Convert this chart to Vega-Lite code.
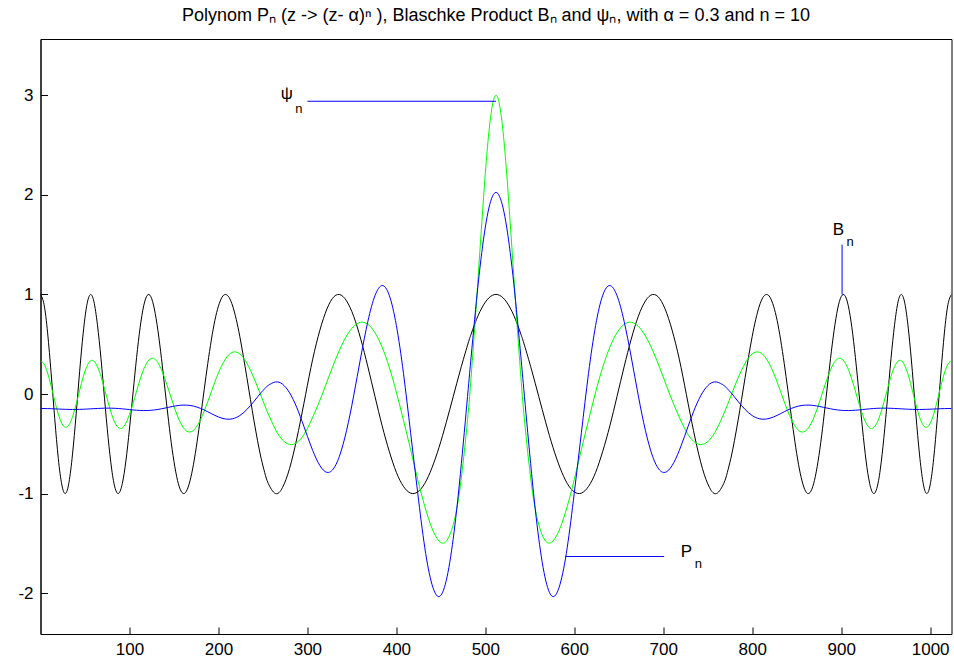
{
"$schema": "https://vega.github.io/schema/vega-lite/v6.json",
"width": 911, "height": 595,
"autosize": {"type": "none"},
"padding": {"left": 40.5, "top": 39, "right": 2.5, "bottom": 31},
"background": "white",
"config": {"view": {"stroke": "black", "strokeWidth": 1}, "font": "Liberation Sans"},
"title": {"text": "Polynom Pₙ  (z -> (z-  α)ⁿ  ), Blaschke Product Bₙ  and ψₙ, with α = 0.3 and n = 10", "fontSize": 18, "fontWeight": "normal", "font": "Liberation Sans", "color": "black", "offset": 14, "anchor": "middle"},
"datasets": {
"curves": [
{"x":0,"B":1.0000,"psi":0.3333,"P":-0.1455},{"x":4,"B":0.8979,"psi":0.3009,"P":-0.1458},{"x":8,"B":0.6133,"psi":0.2100,"P":-0.1466},{"x":12,"B":0.2034,"psi":0.0785,"P":-0.1477},{"x":16,"B":-0.2464,"psi":-0.0680,"P":-0.1492},{"x":20,"B":-0.6460,"psi":-0.2013,"P":-0.1508},{"x":24,"B":-0.9127,"psi":-0.2958,"P":-0.1524},{"x":28,"B":-0.9996,"psi":-0.3342,"P":-0.1537},{"x":32,"B":-0.8879,"psi":-0.3099,"P":-0.1547},{"x":36,"B":-0.6034,"psi":-0.2285,"P":-0.1552},{"x":40,"B":-0.2094,"psi":-0.1055,"P":-0.1550},{"x":44,"B":0.2279,"psi":0.0367,"P":-0.1543},{"x":48,"B":0.6125,"psi":0.1715,"P":-0.1530},{"x":52,"B":0.8890,"psi":0.2756,"P":-0.1513},{"x":56,"B":0.9989,"psi":0.3315,"P":-0.1492},{"x":60,"B":0.9289,"psi":0.3311,"P":-0.1471},{"x":64,"B":0.6949,"psi":0.2749,"P":-0.1451},{"x":68,"B":0.3567,"psi":0.1776,"P":-0.1434},{"x":72,"B":-0.0488,"psi":0.0501,"P":-0.1423},{"x":76,"B":-0.4378,"psi":-0.0837,"P":-0.1419},{"x":80,"B":-0.7546,"psi":-0.2043,"P":-0.1424},{"x":84,"B":-0.9499,"psi":-0.2939,"P":-0.1438},{"x":88,"B":-0.9975,"psi":-0.3408,"P":-0.1461},{"x":92,"B":-0.8977,"psi":-0.3396,"P":-0.1490},{"x":96,"B":-0.6720,"psi":-0.2921,"P":-0.1524},{"x":100,"B":-0.3518,"psi":-0.2052,"P":-0.1562},{"x":104,"B":0.0104,"psi":-0.0945,"P":-0.1598},{"x":108,"B":0.3654,"psi":0.0288,"P":-0.1628},{"x":112,"B":0.6688,"psi":0.1477,"P":-0.1651},{"x":116,"B":0.8857,"psi":0.2482,"P":-0.1661},{"x":120,"B":0.9911,"psi":0.3200,"P":-0.1657},{"x":124,"B":0.9781,"psi":0.3558,"P":-0.1637},{"x":128,"B":0.8538,"psi":0.3532,"P":-0.1601},{"x":132,"B":0.6367,"psi":0.3138,"P":-0.1550},{"x":136,"B":0.3553,"psi":0.2430,"P":-0.1485},{"x":140,"B":0.0399,"psi":0.1486,"P":-0.1411},{"x":144,"B":-0.2739,"psi":0.0411,"P":-0.1333},{"x":148,"B":-0.5560,"psi":-0.0699,"P":-0.1257},{"x":152,"B":-0.7805,"psi":-0.1742,"P":-0.1192},{"x":156,"B":-0.9322,"psi":-0.2631,"P":-0.1141},{"x":160,"B":-0.9973,"psi":-0.3302,"P":-0.1114},{"x":164,"B":-0.9763,"psi":-0.3704,"P":-0.1114},{"x":168,"B":-0.8733,"psi":-0.3818,"P":-0.1147},{"x":172,"B":-0.7046,"psi":-0.3646,"P":-0.1214},{"x":176,"B":-0.4804,"psi":-0.3206,"P":-0.1316},{"x":180,"B":-0.2263,"psi":-0.2551,"P":-0.1448},{"x":184,"B":0.0433,"psi":-0.1716,"P":-0.1607},{"x":188,"B":0.3057,"psi":-0.0775,"P":-0.1783},{"x":192,"B":0.5412,"psi":0.0224,"P":-0.1966},{"x":196,"B":0.7393,"psi":0.1209,"P":-0.2144},{"x":200,"B":0.8825,"psi":0.2116,"P":-0.2304},{"x":204,"B":0.9716,"psi":0.2903,"P":-0.2431},{"x":208,"B":1.0000,"psi":0.3528,"P":-0.2511},{"x":212,"B":0.9692,"psi":0.3965,"P":-0.2532},{"x":216,"B":0.8837,"psi":0.4196,"P":-0.2484},{"x":220,"B":0.7506,"psi":0.4214,"P":-0.2365},{"x":224,"B":0.5791,"psi":0.4024,"P":-0.2166},{"x":228,"B":0.3803,"psi":0.3641,"P":-0.1894},{"x":232,"B":0.1646,"psi":0.3087,"P":-0.1553},{"x":236,"B":-0.0560,"psi":0.2392,"P":-0.1161},{"x":240,"B":-0.2707,"psi":0.1588,"P":-0.0732},{"x":244,"B":-0.4696,"psi":0.0705,"P":-0.0288},{"x":248,"B":-0.6460,"psi":-0.0210,"P":0.0145},{"x":252,"B":-0.7888,"psi":-0.1125,"P":0.0538},{"x":256,"B":-0.8983,"psi":-0.2005,"P":0.0865},{"x":264,"B":-0.9989,"psi":-0.3539,"P":0.1205},{"x":272,"B":-0.9397,"psi":-0.4609,"P":0.0994},{"x":280,"B":-0.7466,"psi":-0.5061,"P":0.0121},{"x":288,"B":-0.4519,"psi":-0.4887,"P":-0.1342},{"x":296,"B":-0.0983,"psi":-0.4085,"P":-0.3239},{"x":304,"B":0.2669,"psi":-0.2723,"P":-0.5212},{"x":312,"B":0.5742,"psi":-0.1073,"P":-0.6866},{"x":320,"B":0.8090,"psi":0.0742,"P":-0.7792},{"x":328,"B":0.9582,"psi":0.2647,"P":-0.7649},{"x":336,"B":0.9993,"psi":0.4393,"P":-0.6251},{"x":344,"B":0.9352,"psi":0.5824,"P":-0.3678},{"x":352,"B":0.7810,"psi":0.6789,"P":-0.0188},{"x":360,"B":0.5512,"psi":0.7203,"P":0.3711},{"x":368,"B":0.2730,"psi":0.6997,"P":0.7304},{"x":376,"B":-0.0258,"psi":0.6154,"P":0.9888},{"x":384,"B":-0.3190,"psi":0.4710,"P":1.0892},{"x":392,"B":-0.5746,"psi":0.2692,"P":0.9923},{"x":400,"B":-0.7864,"psi":0.0193,"P":0.6893},{"x":408,"B":-0.9280,"psi":-0.2649,"P":0.2078},{"x":416,"B":-0.9953,"psi":-0.5572,"P":-0.3881},{"x":424,"B":-0.9832,"psi":-0.8593,"P":-0.9924},{"x":432,"B":-0.8973,"psi":-1.1300,"P":-1.5451},{"x":440,"B":-0.7415,"psi":-1.3471,"P":-1.9104},{"x":448,"B":-0.5346,"psi":-1.4765,"P":-2.0343},{"x":456,"B":-0.2884,"psi":-1.4796,"P":-1.8760},{"x":464,"B":-0.0233,"psi":-1.3088,"P":-1.4473},{"x":472,"B":0.2420,"psi":-0.9165,"P":-0.7981},{"x":480,"B":0.4900,"psi":-0.2615,"P":-0.0258},{"x":484,"B":0.6006,"psi":0.1680,"P":0.3707},{"x":488,"B":0.7010,"psi":0.6549,"P":0.7515},{"x":492,"B":0.7892,"psi":1.1820,"P":1.1094},{"x":496,"B":0.8634,"psi":1.7153,"P":1.4197},{"x":500,"B":0.9224,"psi":2.2160,"P":1.6760},{"x":504,"B":0.9653,"psi":2.6292,"P":1.8670},{"x":508,"B":0.9913,"psi":2.9036,"P":1.9847},{"x":512,"B":1.0000,"psi":3.0000,"P":2.0245},
{"x":516,"B":0.9913,"psi":2.9036,"P":1.9847},{"x":520,"B":0.9653,"psi":2.6292,"P":1.8670},{"x":524,"B":0.9224,"psi":2.2160,"P":1.6760},{"x":528,"B":0.8634,"psi":1.7153,"P":1.4197},{"x":532,"B":0.7892,"psi":1.1820,"P":1.1094},{"x":536,"B":0.7010,"psi":0.6549,"P":0.7515},{"x":540,"B":0.6006,"psi":0.1680,"P":0.3707},{"x":544,"B":0.4900,"psi":-0.2615,"P":-0.0258},{"x":552,"B":0.2420,"psi":-0.9165,"P":-0.7981},{"x":560,"B":-0.0233,"psi":-1.3088,"P":-1.4473},{"x":568,"B":-0.2884,"psi":-1.4796,"P":-1.8760},{"x":576,"B":-0.5346,"psi":-1.4765,"P":-2.0343},{"x":584,"B":-0.7415,"psi":-1.3471,"P":-1.9104},{"x":592,"B":-0.8973,"psi":-1.1300,"P":-1.5451},{"x":600,"B":-0.9832,"psi":-0.8593,"P":-0.9924},{"x":608,"B":-0.9953,"psi":-0.5572,"P":-0.3881},{"x":616,"B":-0.9280,"psi":-0.2649,"P":0.2078},{"x":624,"B":-0.7864,"psi":0.0193,"P":0.6893},{"x":632,"B":-0.5746,"psi":0.2692,"P":0.9923},{"x":640,"B":-0.3190,"psi":0.4710,"P":1.0892},{"x":648,"B":-0.0258,"psi":0.6154,"P":0.9888},{"x":656,"B":0.2730,"psi":0.6997,"P":0.7304},{"x":664,"B":0.5512,"psi":0.7203,"P":0.3711},{"x":672,"B":0.7810,"psi":0.6789,"P":-0.0188},{"x":680,"B":0.9352,"psi":0.5824,"P":-0.3678},{"x":688,"B":0.9993,"psi":0.4393,"P":-0.6251},{"x":696,"B":0.9582,"psi":0.2647,"P":-0.7649},{"x":704,"B":0.8090,"psi":0.0742,"P":-0.7792},{"x":712,"B":0.5742,"psi":-0.1073,"P":-0.6866},{"x":720,"B":0.2669,"psi":-0.2723,"P":-0.5212},{"x":728,"B":-0.0983,"psi":-0.4085,"P":-0.3239},{"x":736,"B":-0.4519,"psi":-0.4887,"P":-0.1342},{"x":744,"B":-0.7466,"psi":-0.5061,"P":0.0121},{"x":752,"B":-0.9397,"psi":-0.4609,"P":0.0994},{"x":760,"B":-0.9989,"psi":-0.3539,"P":0.1205},{"x":768,"B":-0.8983,"psi":-0.2005,"P":0.0865},{"x":772,"B":-0.7888,"psi":-0.1125,"P":0.0538},{"x":776,"B":-0.6460,"psi":-0.0210,"P":0.0145},{"x":780,"B":-0.4696,"psi":0.0705,"P":-0.0288},{"x":784,"B":-0.2707,"psi":0.1588,"P":-0.0732},{"x":788,"B":-0.0560,"psi":0.2392,"P":-0.1161},{"x":792,"B":0.1646,"psi":0.3087,"P":-0.1553},{"x":796,"B":0.3803,"psi":0.3641,"P":-0.1894},{"x":800,"B":0.5791,"psi":0.4024,"P":-0.2166},{"x":804,"B":0.7506,"psi":0.4214,"P":-0.2365},{"x":808,"B":0.8837,"psi":0.4196,"P":-0.2484},{"x":812,"B":0.9692,"psi":0.3965,"P":-0.2532},{"x":816,"B":1.0000,"psi":0.3528,"P":-0.2511},{"x":820,"B":0.9716,"psi":0.2903,"P":-0.2431},{"x":824,"B":0.8825,"psi":0.2116,"P":-0.2304},{"x":828,"B":0.7393,"psi":0.1209,"P":-0.2144},{"x":832,"B":0.5412,"psi":0.0224,"P":-0.1966},{"x":836,"B":0.3057,"psi":-0.0775,"P":-0.1783},{"x":840,"B":0.0433,"psi":-0.1716,"P":-0.1607},{"x":844,"B":-0.2263,"psi":-0.2551,"P":-0.1448},{"x":848,"B":-0.4804,"psi":-0.3206,"P":-0.1316},{"x":852,"B":-0.7046,"psi":-0.3646,"P":-0.1214},{"x":856,"B":-0.8733,"psi":-0.3818,"P":-0.1147},{"x":860,"B":-0.9763,"psi":-0.3704,"P":-0.1114},{"x":864,"B":-0.9973,"psi":-0.3302,"P":-0.1114},{"x":868,"B":-0.9322,"psi":-0.2631,"P":-0.1141},{"x":872,"B":-0.7805,"psi":-0.1742,"P":-0.1192},{"x":876,"B":-0.5560,"psi":-0.0699,"P":-0.1257},{"x":880,"B":-0.2739,"psi":0.0411,"P":-0.1333},{"x":884,"B":0.0399,"psi":0.1486,"P":-0.1411},{"x":888,"B":0.3553,"psi":0.2430,"P":-0.1485},{"x":892,"B":0.6367,"psi":0.3138,"P":-0.1550},{"x":896,"B":0.8538,"psi":0.3532,"P":-0.1601},{"x":900,"B":0.9781,"psi":0.3558,"P":-0.1637},{"x":904,"B":0.9911,"psi":0.3200,"P":-0.1657},{"x":908,"B":0.8857,"psi":0.2482,"P":-0.1661},{"x":912,"B":0.6688,"psi":0.1477,"P":-0.1651},{"x":916,"B":0.3654,"psi":0.0288,"P":-0.1628},{"x":920,"B":0.0104,"psi":-0.0945,"P":-0.1598},{"x":924,"B":-0.3518,"psi":-0.2052,"P":-0.1562},{"x":928,"B":-0.6720,"psi":-0.2921,"P":-0.1524},{"x":932,"B":-0.8977,"psi":-0.3396,"P":-0.1490},{"x":936,"B":-0.9975,"psi":-0.3408,"P":-0.1461},{"x":940,"B":-0.9499,"psi":-0.2939,"P":-0.1438},{"x":944,"B":-0.7546,"psi":-0.2043,"P":-0.1424},{"x":948,"B":-0.4378,"psi":-0.0837,"P":-0.1419},{"x":952,"B":-0.0488,"psi":0.0501,"P":-0.1423},{"x":956,"B":0.3567,"psi":0.1776,"P":-0.1434},{"x":960,"B":0.6949,"psi":0.2749,"P":-0.1451},{"x":964,"B":0.9289,"psi":0.3311,"P":-0.1471},{"x":968,"B":0.9989,"psi":0.3315,"P":-0.1492},{"x":972,"B":0.8890,"psi":0.2756,"P":-0.1513},{"x":976,"B":0.6125,"psi":0.1715,"P":-0.1530},{"x":980,"B":0.2279,"psi":0.0367,"P":-0.1543},{"x":984,"B":-0.2094,"psi":-0.1055,"P":-0.1550},{"x":988,"B":-0.6034,"psi":-0.2285,"P":-0.1552},{"x":992,"B":-0.8879,"psi":-0.3099,"P":-0.1547},{"x":996,"B":-0.9996,"psi":-0.3342,"P":-0.1537},{"x":1000,"B":-0.9127,"psi":-0.2958,"P":-0.1524},{"x":1004,"B":-0.6460,"psi":-0.2013,"P":-0.1508},{"x":1008,"B":-0.2464,"psi":-0.0680,"P":-0.1492},{"x":1012,"B":0.2034,"psi":0.0785,"P":-0.1477},{"x":1016,"B":0.6133,"psi":0.2100,"P":-0.1466},{"x":1020,"B":0.8979,"psi":0.3009,"P":-0.1458},{"x":1024,"B":1.0000,"psi":0.3333,"P":-0.1455}
],
"rules": [
{"x":300,"x2":512,"y":2.94,"y2":2.94},
{"x":901,"x2":901,"y":1.0,"y2":1.5},
{"x":590,"x2":701,"y":-1.632,"y2":-1.632}
],
"labels": [
{"x":277,"y":3.01,"t":"ψ"},
{"x":897,"y":1.645,"t":"B"},
{"x":726,"y":-1.59,"t":"P"}
],
"subs": [
{"x":290.5,"y":2.86,"t":"n"},
{"x":910,"y":1.53,"t":"n"},
{"x":739.6,"y":-1.71,"t":"n"}
]
},
"layer": [
{
"data": {"name": "curves"},
"mark": {"type": "line", "color": "black", "strokeWidth": 1, "interpolate": "natural", "clip": true},
"encoding": {
"x": {"field": "x", "type": "quantitative", "scale": {"domain": [0, 1024], "nice": false, "zero": false},
"axis": {"values": [100,200,300,400,500,600,700,800,900,1000], "title": null, "grid": false, "tickSize": -7, "tickColor": "black", "domainColor": "black", "labelFont": "Liberation Sans", "labelFontSize": 17, "labelColor": "black", "labelPadding": 14, "labelExpr": "'' + datum.value", "labelFlush": false}},
"y": {"field": "B", "type": "quantitative", "scale": {"domain": [-2.41, 3.565], "nice": false, "zero": false},
"axis": {"values": [-2,-1,0,1,2,3], "title": null, "grid": false, "tickSize": -7, "tickColor": "black", "domainColor": "black", "labelFont": "Liberation Sans", "labelFontSize": 17, "labelColor": "black", "labelPadding": 14.5, "labelExpr": "'' + datum.value"}}
}
},
{
"data": {"name": "curves"},
"mark": {"type": "line", "color": "#00ff00", "strokeWidth": 1, "interpolate": "natural", "clip": true},
"encoding": {"x": {"field": "x", "type": "quantitative"}, "y": {"field": "psi", "type": "quantitative"}}
},
{
"data": {"name": "curves"},
"mark": {"type": "line", "color": "#0000ff", "strokeWidth": 1, "interpolate": "natural", "clip": true},
"encoding": {"x": {"field": "x", "type": "quantitative"}, "y": {"field": "P", "type": "quantitative"}}
},
{
"data": {"name": "rules"},
"mark": {"type": "rule", "color": "#0000ff", "strokeWidth": 1},
"encoding": {"x": {"field": "x", "type": "quantitative"}, "x2": {"field": "x2"}, "y": {"field": "y", "type": "quantitative"}, "y2": {"field": "y2"}}
},
{
"data": {"name": "labels"},
"mark": {"type": "text", "font": "Liberation Sans", "fontSize": 17, "color": "black", "align": "center", "baseline": "middle"},
"encoding": {"x": {"field": "x", "type": "quantitative"}, "y": {"field": "y", "type": "quantitative"}, "text": {"field": "t"}}
},
{
"data": {"name": "subs"},
"mark": {"type": "text", "font": "Liberation Sans", "fontSize": 13, "color": "black", "align": "center", "baseline": "middle"},
"encoding": {"x": {"field": "x", "type": "quantitative"}, "y": {"field": "y", "type": "quantitative"}, "text": {"field": "t"}}
}
]
}
